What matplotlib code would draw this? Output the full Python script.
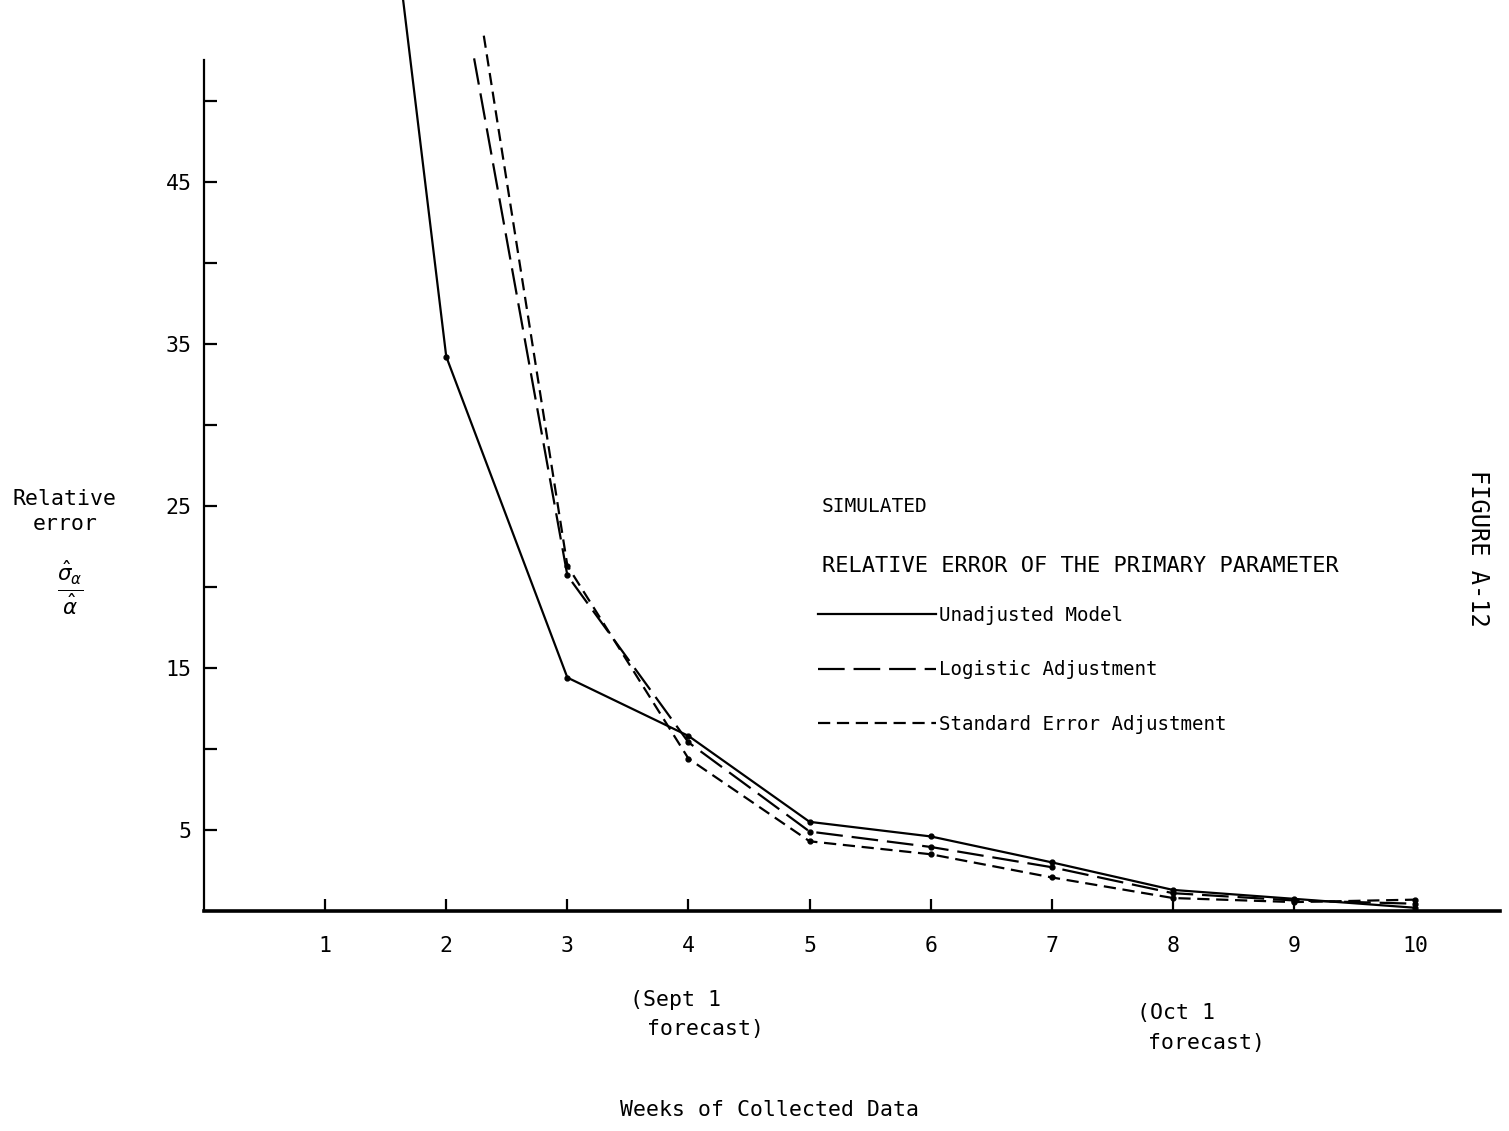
import matplotlib
matplotlib.use("Agg")
import matplotlib.pyplot as plt
from matplotlib.lines import Line2D

# ---- data ----
weeks = [1, 2, 3, 4, 5, 6, 7, 8, 9, 10]
unadjusted = [96.0, 34.2, 14.4, 10.8, 5.5, 4.6, 3.0, 1.3, 0.75, 0.2]

logistic_weeks = [2.23, 3, 4, 5, 6, 7, 8, 9, 10]
logistic = [52.6, 20.7, 10.4, 4.9, 3.95, 2.7, 1.1, 0.65, 0.45]

stderr_weeks = [2.31, 3, 4, 5, 6, 7, 8, 9, 10]
stderr_adj = [54.0, 21.3, 9.4, 4.3, 3.5, 2.07, 0.8, 0.55, 0.7]

xtick_vals = [1, 2, 3, 4, 5, 6, 7, 8, 9, 10]
ytick_vals = [5, 10, 15, 20, 25, 30, 35, 40, 45, 50]
ytick_labels = ["5", "", "15", "", "25", "", "35", "", "45", ""]

labels = ["Unadjusted Model", "Logistic Adjustment", "Standard Error Adjustment"]

W, H = 1509, 1131
plt.rcParams['font.family'] = ['DejaVu Sans Mono', 'DejaVu Sans']
FS = 15.5
LFS = 13.8

fig = plt.figure(figsize=(W / 100, H / 100), dpi=100)
ax = fig.add_axes([204 / W, (H - 911) / H, (1500 - 204) / W, 911 / H])
ax.set_xlim(0, 10.7)
ax.set_ylim(0, 56.2)

k = 'black'
ax.plot(weeks, unadjusted, color=k, lw=1.6, marker='o', ms=3.5,
        markevery=slice(1, None))
ax.plot(logistic_weeks, logistic, color=k, lw=1.6, marker='o', ms=3.5,
        markevery=slice(1, None), dashes=(12, 4))
ax.plot(stderr_weeks, stderr_adj, color=k, lw=1.6, marker='o', ms=3.5,
        markevery=slice(1, None), dashes=(5.5, 3))

for s in ['top', 'right']:
    ax.spines[s].set_visible(False)
ax.spines['left'].set_bounds(0, 52.5)
ax.spines['left'].set_linewidth(1.6)
ax.spines['bottom'].set_linewidth(2.6)

ax.set_xticks(xtick_vals)
ax.set_xticklabels([str(v) for v in xtick_vals], fontsize=FS)
ax.set_yticks(ytick_vals)
ax.set_yticklabels(ytick_labels, fontsize=FS)
ax.tick_params(axis='x', direction='in', length=9, width=1.6, pad=18)
ax.tick_params(axis='y', direction='in', length=9, width=1.6, pad=9)

def ft(x, y, s, **kw):
    fig.text(x / W, 1 - y / H, s, fontsize=kw.pop('fontsize', FS), **kw)

ft(630, 1000, "(Sept 1", ha='left', va='center')
ft(647, 1029, "forecast)", ha='left', va='center')
ft(1137, 1013, "(Oct 1", ha='left', va='center')
ft(1148, 1043, "forecast)", ha='left', va='center')
ft(770, 1110, "Weeks of Collected Data", ha='center', va='center')
ft(65, 499, "Relative", ha='center', va='center')
ft(65, 524, "error", ha='center', va='center')
ft(70, 588, r"$\frac{\hat{\sigma}_{\alpha}}{\hat{\alpha}}$", ha='center', va='center',
   fontsize=22)
ft(1478, 548, "FIGURE A-12", ha='center', va='center', rotation=-90, fontsize=17)
ft(822, 506, "SIMULATED", ha='left', va='center', fontsize=14)
ft(822, 566, "RELATIVE ERROR OF THE PRIMARY PARAMETER", ha='left', va='center',
   fontsize=15.8)

h1 = Line2D([], [], color=k, lw=1.6)
h2 = Line2D([], [], color=k, lw=1.6, dashes=(12, 4))
h3 = Line2D([], [], color=k, lw=1.6, dashes=(5.5, 3))
fig.legend([h1, h2, h3], labels, loc='upper left',
           bbox_to_anchor=(818 / W, 1 - 606 / H), frameon=False,
           fontsize=LFS, handlelength=6.15, handletextpad=0.15,
           labelspacing=1.85, borderpad=0, borderaxespad=0)

fig.savefig("out.png", dpi=100)
